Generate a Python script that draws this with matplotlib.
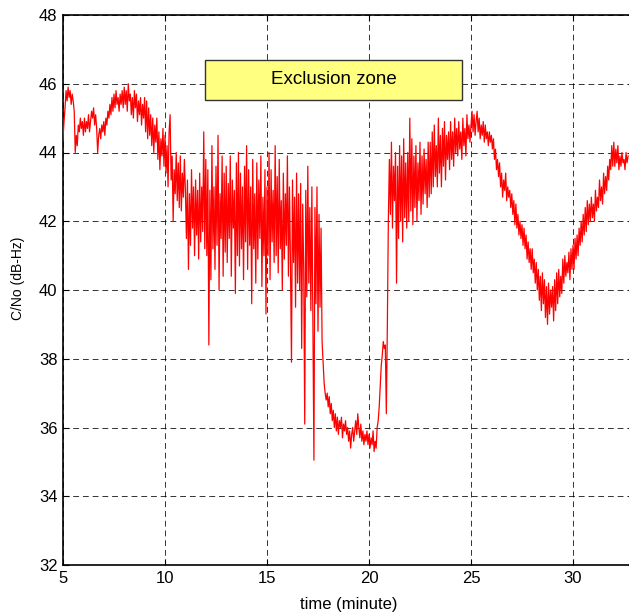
import numpy as np
import matplotlib
matplotlib.use("Agg")
import matplotlib.pyplot as plt
from matplotlib.patches import Rectangle

# ---- data (C/No in dB-Hz, sampled every 0.05 minute starting at 5.0 min) ----
T0 = 5.0
DT = 0.05
cn0_05 = [44.4, 44.9, 45.3, 45.8, 45.5, 45.9, 45.6, 45.8, 45.4, 45.7, 45.5, 45.2, 44.0, 44.5, 44.2, 44.8, 44.6, 45.0, 44.7, 44.9]
cn0_06 = [44.5, 45.0, 44.6, 44.9, 44.7, 45.1, 44.6, 44.9, 45.2, 45.0, 45.3, 44.8, 45.1, 44.7, 44.0, 44.5, 44.7, 44.4, 44.8, 44.6]
cn0_07 = [44.9, 44.5, 45.0, 44.8, 45.2, 45.0, 45.4, 45.1, 45.6, 45.2, 45.7, 45.3, 45.8, 45.4, 45.6, 45.2, 45.7, 45.4, 45.8, 45.3]
cn0_08 = [45.9, 45.4, 45.8, 45.2, 46.0, 45.5, 45.7, 45.1, 45.6, 45.0, 45.8, 45.3, 45.7, 44.9, 45.5, 45.1, 45.6, 44.8, 45.4, 45.0]
cn0_09 = [45.6, 44.6, 45.5, 44.4, 45.3, 44.5, 45.1, 44.2, 45.0, 44.0, 44.8, 44.3, 45.0, 43.8, 44.6, 43.5, 44.4, 43.9, 44.7, 43.6]
cn0_10 = [44.5, 43.4, 44.2, 43.0, 44.6, 45.1, 43.2, 43.9, 42.0, 43.5, 42.8, 44.0, 42.6, 43.7, 42.4, 43.9, 42.3, 43.4, 42.7, 43.8]
cn0_11 = [42.9, 41.5, 43.2, 40.6, 42.8, 41.3, 43.5, 41.8, 43.0, 41.0, 43.2, 41.6, 42.9, 40.9, 43.4, 41.4, 43.0, 41.7, 44.6, 41.2]
cn0_12 = [43.8, 41.0, 43.5, 38.4, 42.9, 40.3, 44.2, 41.2, 43.0, 40.6, 43.6, 41.3, 44.5, 40.0, 42.8, 41.5, 43.9, 40.4, 43.4, 41.1]
cn0_13 = [43.6, 40.8, 43.1, 41.5, 43.9, 40.4, 43.2, 41.8, 42.9, 39.9, 43.7, 41.0, 44.0, 40.7, 43.4, 41.2, 43.0, 40.3, 43.6, 41.4]
cn0_14 = [44.2, 40.6, 43.5, 41.3, 43.0, 39.6, 43.8, 41.2, 42.8, 40.2, 43.7, 40.9, 43.2, 41.5, 43.9, 40.1, 42.7, 41.0, 43.5, 39.3]
cn0_15 = [43.0, 41.0, 44.0, 40.3, 43.5, 41.4, 42.9, 40.8, 44.2, 41.0, 43.3, 40.5, 43.8, 41.2, 42.6, 40.0, 43.4, 40.9, 42.8, 41.3]
cn0_16 = [43.9, 40.4, 43.0, 40.8, 37.9, 43.2, 40.8, 42.7, 39.5, 43.4, 40.2, 42.8, 40.0, 43.1, 38.3, 42.5, 40.6, 36.1, 42.9, 39.8]
cn0_17 = [43.6, 40.2, 42.4, 39.4, 43.0, 38.9, 35.05, 42.4, 39.6, 43.0, 38.8, 42.2, 39.5, 41.8, 38.5, 37.9, 37.3, 37.0, 36.8, 37.0]
cn0_18 = [36.6, 36.9, 36.4, 36.7, 36.2, 36.5, 36.0, 36.4, 35.9, 36.3, 35.8, 36.2, 36.0, 36.3, 35.7, 36.1, 35.9, 36.2, 35.8, 36.0]
cn0_19 = [35.6, 35.9, 35.4, 35.8, 36.0, 35.6, 35.9, 36.2, 35.8, 36.4, 36.0, 35.7, 36.1, 35.6, 35.9, 35.5, 35.8, 35.6, 35.9, 35.5]
cn0_20 = [35.8, 35.4, 35.7, 35.5, 35.9, 35.3, 35.6, 35.4, 36.0, 36.2, 36.6, 37.2, 37.8, 38.1, 38.5, 38.3, 38.4, 36.4, 39.0, 42.1]
cn0_21 = [43.8, 42.2, 44.3, 41.8, 43.6, 42.6, 44.0, 40.2, 43.6, 41.5, 44.2, 42.0, 43.9, 41.4, 44.4, 42.1, 43.7, 41.8, 44.0, 42.0]
cn0_22 = [45.0, 42.3, 44.4, 41.9, 43.9, 42.4, 44.2, 42.0, 43.7, 42.6, 44.3, 42.2, 43.9, 42.5, 44.1, 42.8, 43.8, 42.4, 44.3, 42.7]
cn0_23 = [44.3, 42.8, 44.6, 43.0, 44.8, 43.3, 44.2, 43.0, 45.0, 43.4, 44.5, 43.0, 44.7, 43.6, 44.9, 43.2, 44.5, 43.8, 44.6, 43.5]
cn0_24 = [44.9, 43.8, 44.6, 43.6, 45.0, 44.0, 44.7, 43.9, 44.9, 44.1, 44.6, 43.8, 45.0, 44.2, 44.7, 43.9, 45.1, 44.4, 44.8, 44.3]
cn0_25 = [44.8, 45.2, 44.6, 45.1, 44.5, 44.9, 45.2, 44.6, 45.0, 44.4, 44.8, 44.5, 44.9, 44.3, 44.8, 44.4, 44.6, 44.2, 44.6, 44.3]
cn0_26 = [44.5, 44.1, 44.4, 43.8, 44.1, 43.5, 43.8, 43.3, 43.7, 43.0, 43.4, 42.7, 43.2, 42.9, 43.4, 42.6, 43.0, 42.7, 42.9, 42.4]
cn0_27 = [42.8, 42.2, 42.6, 41.9, 42.5, 41.8, 42.2, 41.6, 42.0, 41.5, 41.9, 41.3, 41.8, 41.2, 41.6, 40.9, 41.4, 40.8, 41.2, 40.6]
cn0_28 = [41.2, 40.5, 40.9, 40.2, 40.8, 40.0, 40.6, 39.7, 40.4, 39.4, 40.5, 39.6, 40.3, 39.2, 40.1, 39.0, 40.2, 39.3, 40.0, 39.5]
cn0_29 = [40.1, 39.1, 40.3, 39.4, 40.5, 39.6, 40.6, 39.8, 40.4, 39.9, 40.9, 40.2, 41.0, 40.4, 40.8, 40.5, 41.1, 40.3, 41.2, 40.6]
cn0_30 = [41.3, 40.6, 41.5, 40.9, 41.6, 41.0, 41.8, 41.3, 42.0, 41.4, 42.2, 41.6, 42.4, 41.7, 42.6, 41.9, 42.5, 42.0, 42.7, 42.1]
cn0_31 = [42.5, 42.0, 42.9, 42.3, 42.7, 42.4, 43.2, 42.6, 43.0, 42.5, 43.4, 42.8, 43.3, 42.9, 43.6, 43.2, 43.8, 43.5, 44.2, 43.6]
cn0_32 = [44.3, 43.6, 44.1, 43.7, 44.2, 43.5, 43.9, 43.6, 44.0, 43.7, 43.8, 43.5, 44.0, 43.7, 43.9]

cn0 = (cn0_05 + cn0_06 + cn0_07 + cn0_08 + cn0_09 + cn0_10 + cn0_11 + cn0_12
       + cn0_13 + cn0_14 + cn0_15 + cn0_16 + cn0_17 + cn0_18 + cn0_19 + cn0_20
       + cn0_21 + cn0_22 + cn0_23 + cn0_24 + cn0_25 + cn0_26 + cn0_27 + cn0_28
       + cn0_29 + cn0_30 + cn0_31 + cn0_32)
time_min = T0 + DT * np.arange(len(cn0))

x_ticks = [5, 10, 15, 20, 25, 30]
y_ticks = [32, 34, 36, 38, 40, 42, 44, 46, 48]
label_text = "Exclusion zone"
box_x = (11.96, 24.56)
box_y = (45.53, 46.69)

# ---- figure ----
plt.rcParams['font.family'] = ['Liberation Sans', 'DejaVu Sans']
fig = plt.figure(figsize=(6.29, 6.14), dpi=100)
ax = fig.add_axes([63/629, 49/614, 571.2/629, 550/614])

ax.plot(time_min, cn0, color='red', lw=0.9, zorder=3)

ax.set_xlim(5, 33)
ax.set_ylim(32, 48)
ax.set_xticks(x_ticks)
ax.set_yticks(y_ticks)
ax.tick_params(direction='in', length=4, width=0.8, labelsize=12,
               top=True, right=True, pad=4)
ax.grid(True, color='black', linestyle=(0, (6, 4)), lw=0.7, alpha=0.8)
for s in ax.spines.values():
    s.set_linewidth(1.2)

ax.set_xlabel("time (minute)", fontsize=12, labelpad=8)
fig.text(18/629, 1 - 278/614, "C/No (dB-Hz)", rotation=90,
         ha='center', va='center', fontsize=10)

rect = Rectangle((box_x[0], box_y[0]), box_x[1] - box_x[0], box_y[1] - box_y[0],
                 facecolor='#ffff80', edgecolor='#333333', lw=1.0, zorder=5)
ax.add_patch(rect)
ax.text((box_x[0] + box_x[1]) / 2, (box_y[0] + box_y[1]) / 2, label_text,
        ha='center', va='center', fontsize=13.5, zorder=6)

fig.savefig("out.png", dpi=100, facecolor='white')
